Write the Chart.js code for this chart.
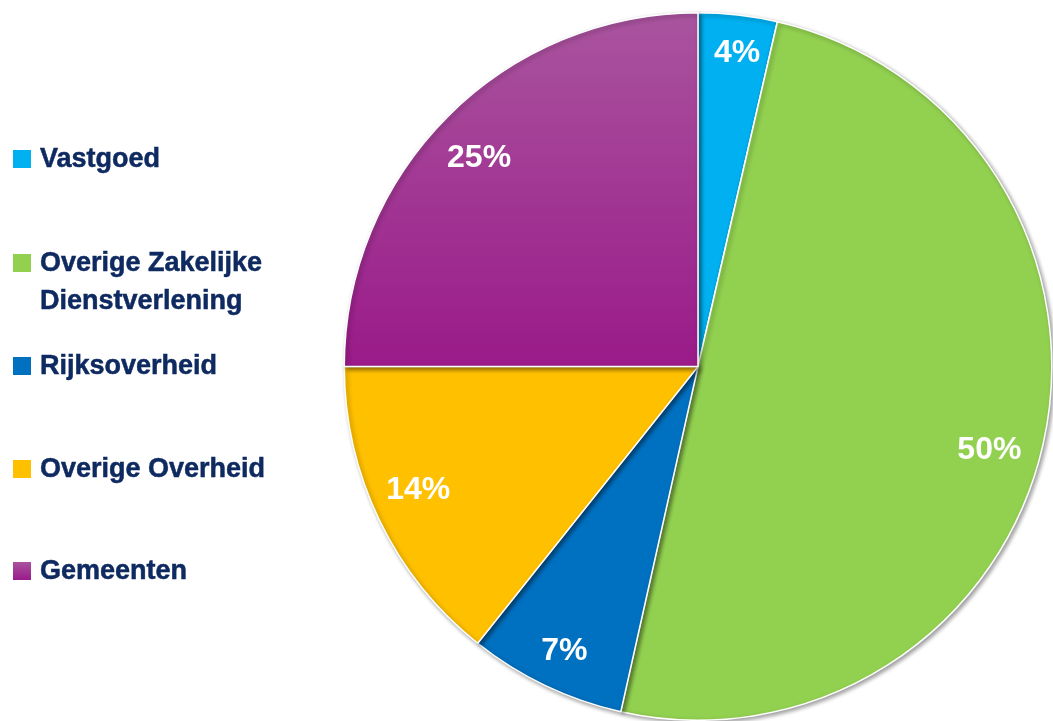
<!DOCTYPE html>
<html>
<head>
<meta charset="utf-8">
<script src="https://cdn.jsdelivr.net/npm/chart.js@4"></script>
<style>
  html, body { margin: 0; padding: 0; background: #fff; }
  #wrap { position: relative; width: 1053px; height: 721px; overflow: hidden; }
  #grafica { position: absolute; left: 0; top: 0; }
  .leyenda { position: absolute; left: 13px; font-family: "Liberation Sans", Arial, sans-serif;
    font-weight: bold; font-size: 27px; color: #0E2A60; line-height: 38px; }
  .leyenda span.cuadro { position: absolute; left: 0; width: 18px; height: 18px; }
  .leyenda span.texto { position: absolute; left: 27px; white-space: nowrap;
    -webkit-text-stroke: 0.5px #0E2A60; }
</style>
</head>
<body>
<div id="wrap">
  <canvas id="grafica" width="1053" height="721"></canvas>
  <div id="leyenda"></div>
</div>
<script>
// Datos
const categorias = ["Vastgoed", "Overige Zakelijke\nDienstverlening", "Rijksoverheid", "Overige Overheid", "Gemeenten"];
const valores = [3.6, 49.9, 7.2, 14.3, 25.0];
const colores = ["#00B0F0", "#92D050", "#0070C0", "#FFC000", "#A0288F"];
const posLeyenda = [159, 263, 366, 469, 571]; // centro vertical del cuadro
// posición de las etiquetas: fracción del radio y giro en grados
const radioEtiqueta = [0.896, 0.856, 0.886, 0.864, 0.856];
const giroEtiqueta = [0.6, 3.0, -0.3, 2.0, -1.3];

// Leyenda en HTML (a la izquierda)
const leyenda = document.getElementById("leyenda");
categorias.forEach(function (cat, i) {
  const div = document.createElement("div");
  div.className = "leyenda";
  div.style.top = (posLeyenda[i] - 9) + "px";
  const cuadro = document.createElement("span");
  cuadro.className = "cuadro";
  cuadro.style.top = "0px";
  cuadro.style.background = i === 4 ? "linear-gradient(#A9549E, #9A1A89)" : colores[i];
  const texto = document.createElement("span");
  texto.className = "texto";
  texto.style.top = "-11px";
  texto.innerHTML = cat.replace("\n", "<br>");
  div.appendChild(cuadro);
  div.appendChild(texto);
  leyenda.appendChild(div);
});

// Sombra de los sectores
const sombraPlugin = {
  id: "sombra",
  beforeDatasetsDraw(chart) {
    const ctx = chart.ctx;
    ctx.save();
    ctx.shadowColor = "rgba(0,0,0,0.38)";
    ctx.shadowBlur = 4;
    ctx.shadowOffsetX = 2;
    ctx.shadowOffsetY = 2;
  },
  afterDatasetsDraw(chart) {
    chart.ctx.restore();
  }
};

// Etiquetas de porcentaje dentro de los sectores
const etiquetasPlugin = {
  id: "etiquetas",
  afterDraw(chart) {
    const ctx = chart.ctx;
    const meta = chart.getDatasetMeta(0);
    ctx.save();
    ctx.fillStyle = "#ffffff";
    ctx.font = "bold 32px 'Liberation Sans', Arial, sans-serif";
    ctx.textAlign = "center";
    ctx.textBaseline = "middle";
    meta.data.forEach(function (arc, i) {
      const p = arc.getProps(["x", "y", "startAngle", "endAngle", "outerRadius"], true);
      const ang = (p.startAngle + p.endAngle) / 2 + giroEtiqueta[i] * Math.PI / 180;
      const r = p.outerRadius * radioEtiqueta[i];
      ctx.fillText(Math.round(valores[i]) + "%", p.x + Math.cos(ang) * r, p.y + Math.sin(ang) * r + 1);
    });
    ctx.restore();
  }
};

const ctx = document.getElementById("grafica").getContext("2d");
new Chart(ctx, {
  type: "pie",
  data: {
    labels: categorias,
    datasets: [
      {
        data: valores,
        backgroundColor: function (c) {
          if (c.dataIndex !== 4) return colores[c.dataIndex];
          const area = c.chart.chartArea;
          if (!area) return colores[4];
          const g = c.chart.ctx.createLinearGradient(0, area.top, 0, (area.top + area.bottom) / 2);
          g.addColorStop(0, "#A9549E");
          g.addColorStop(1, "#9A1A89");
          return g;
        },
        borderColor: "#ffffff",
        borderWidth: 1.5,
        clip: false,
      },
    ],
  },
  options: {
    responsive: false,
    animation: false,
    layout: { padding: { left: 343, top: 12, right: 0, bottom: 0 } },
    plugins: {
      legend: { display: false },
      tooltip: { enabled: false },
    },
  },
  plugins: [sombraPlugin, etiquetasPlugin],
});
</script>
</body>
</html>
